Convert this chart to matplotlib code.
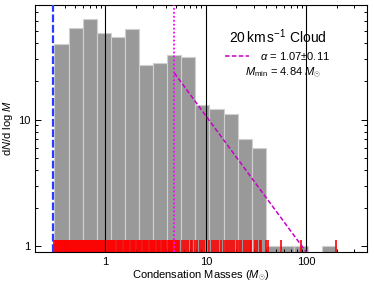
import numpy as np
import matplotlib
matplotlib.use('Agg')
import matplotlib.pyplot as plt
from matplotlib.ticker import FuncFormatter, NullFormatter, LogLocator

plt.rcParams['font.family'] = ['Liberation Sans', 'DejaVu Sans']
plt.rcParams['mathtext.fontset'] = 'custom'
plt.rcParams['mathtext.rm'] = 'Liberation Sans'
plt.rcParams['mathtext.it'] = 'Liberation Sans:italic'

# histogram counts per log bin (20 bins between min and max mass)
counts = [39, 53, 62, 48, 45, 52, 27, 28, 32, 31, 13, 12, 11, 7, 6, 1, 1, 1, 0, 1]

# individual condensation masses (rug)
masses = [0.311, 0.317, 0.324, 0.331, 0.335, 0.343, 0.351, 0.356, 0.364, 0.372,
          0.38, 0.386, 0.395, 0.403, 0.41, 0.421, 0.428, 0.437, 0.447, 0.455,
          0.466, 0.476, 0.487, 0.495, 0.508, 0.52, 0.531, 0.543, 0.556, 0.567,
          0.58, 0.594, 0.606, 0.62, 0.636, 0.649, 0.665, 0.68, 0.697, 0.711,
          0.73, 0.748, 0.764, 0.783, 0.801, 0.822, 0.84, 0.861, 0.88, 0.905,
          0.925, 0.95, 0.972,
          1.0, 1.03, 1.05, 1.08, 1.11, 1.13, 1.16, 1.2, 1.23, 1.26,
          1.29, 1.33, 1.36, 1.4, 1.44, 1.47, 1.52, 1.56, 1.6, 1.64,
          1.69, 1.73, 1.78, 1.83, 1.88, 1.93, 1.98, 2.04, 2.1, 2.15,
          2.21, 2.27, 2.34, 2.4, 2.47, 2.53, 2.6, 2.68, 2.75, 2.83,
          2.9, 2.98, 3.07, 3.15, 3.24, 3.33, 3.42, 3.52, 3.62, 3.72,
          3.82, 3.93, 4.04, 4.15, 4.27, 4.39, 4.5, 4.63, 4.76, 4.9,
          5.03, 5.17, 5.3,
          5.43, 5.74, 6.09, 6.37, 6.67, 7.04, 7.31, 7.78, 8.08, 8.71,
          9.06, 9.48, 10.7, 11.4, 12.0, 12.6, 13.3, 14.1, 15.0, 15.7,
          16.6, 17.4, 18.3, 19.1, 20.2, 21.3, 22.6, 23.7, 24.8, 26.3,
          27.5, 28.4, 30.7, 32.6, 34.4, 35.0, 39.4, 41.5, 56.5, 89.2, 198.6]

m_complete = 0.30      # completeness limit (blue dashed)
m_min = 4.84           # fit lower limit (magenta dotted)
fit_m = [4.84, 100.0]  # power-law fit end points
fit_n = [23.3, 0.9]

edges = np.logspace(np.log10(min(masses)), np.log10(max(masses)), len(counts) + 1)

fig = plt.figure(figsize=(3.74, 2.86), dpi=100)
ax = fig.add_axes([0.094, 0.118, 0.887, 0.865])

ax.hist(edges[:-1], bins=edges, weights=counts, color='#999999',
        edgecolor='#d0d0d0', linewidth=0.8, zorder=1)

ax.vlines(masses, 0, 0.05, transform=ax.get_xaxis_transform(),
          color='red', linewidth=1.2, zorder=2)

for g in [1, 10, 100]:
    ax.axvline(g, color='black', linewidth=0.8, zorder=3)

ax.axvline(m_complete, color='#2a3cff', linestyle=(0, (3.5, 1.2)),
           linewidth=1.6, zorder=4)
ax.axvline(m_min, color='magenta', linestyle=(0, (1, 1.2)), linewidth=1.3, zorder=4)
ax.plot(fit_m, fit_n, color='#c800c8', linestyle=(0, (3, 1.5)), linewidth=1.1,
        zorder=5, label=r'$\alpha$ = 1.07$\pm$0.11')

ax.set_xscale('log')
ax.set_yscale('log')
ax.set_xlim(0.2, 400)
ax.set_ylim(0.9, 80)

fmt = FuncFormatter(lambda v, _: f'{v:g}')
ax.xaxis.set_major_formatter(fmt)
ax.yaxis.set_major_formatter(fmt)
ax.xaxis.set_minor_formatter(NullFormatter())
ax.yaxis.set_minor_formatter(NullFormatter())
ax.yaxis.set_minor_locator(LogLocator(subs=np.arange(2, 10)))
ax.tick_params(which='both', direction='in', top=True, right=True,
               labelsize=8, width=0.7)
ax.tick_params(which='major', length=4)
ax.tick_params(which='minor', length=2.2)
for s in ax.spines.values():
    s.set_linewidth(0.8)

ax.set_xlabel(r'Condensation Masses ($M_{\odot}$)', fontsize=8, labelpad=1)
ax.set_ylabel(r'd$N$/d log $M$', fontsize=8, labelpad=2)

ax.text(0.733, 0.872, r'20$\,$km$\,$s$^{-1}$ Cloud', transform=ax.transAxes,
        ha='center', va='center', fontsize=10)
ax.legend(loc='center left', bbox_to_anchor=(0.572, 0.794), frameon=False,
          fontsize=8, handlelength=2.2, handletextpad=1.0,
          borderpad=0, borderaxespad=0)
ax.text(0.748, 0.724, r'$M_{\rm min}$ = 4.84 $M_{\odot}$', transform=ax.transAxes,
        ha='center', va='center', fontsize=8)

fig.savefig('out.png', dpi=100)
